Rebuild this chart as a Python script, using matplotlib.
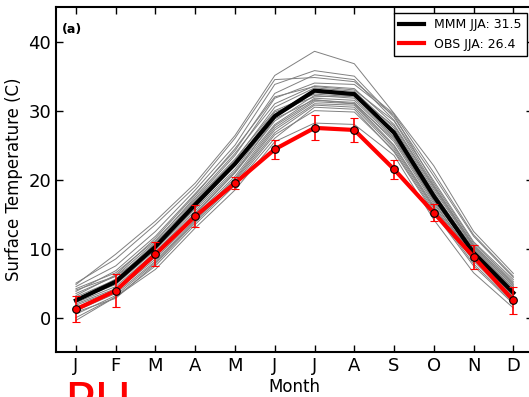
import matplotlib.pyplot as plt

months = ['J', 'F', 'M', 'A', 'M', 'J', 'J', 'A', 'S', 'O', 'N', 'D']
month_num = list(range(1, 13))

mmm = [2.5, 5.2, 10.3, 16.4, 22.3, 29.2, 32.9, 32.4, 26.8, 17.6, 9.4, 3.6]
obs = [1.2, 3.9, 9.2, 14.7, 19.5, 24.4, 27.5, 27.2, 21.5, 15.2, 8.8, 2.5]
obs_err = [1.9, 2.4, 1.7, 1.6, 0.9, 1.4, 1.8, 1.7, 1.4, 1.2, 1.8, 2.0]

# individual models (grey lines)
models = [
    [4.8, 9.2, 14.0, 19.5, 26.4, 35.1, 38.6, 36.8, 29.6, 22.0, 12.5, 6.4],
    [4.5, 7.5, 12.5, 18.5, 25.0, 33.8, 35.8, 35.0, 29.0, 20.5, 11.8, 5.8],
    [3.8, 6.8, 11.8, 18.0, 24.2, 32.5, 35.2, 34.5, 28.6, 19.8, 11.0, 5.5],
    [4.2, 6.5, 11.2, 17.2, 23.5, 31.8, 34.0, 33.8, 29.3, 19.5, 10.8, 5.2],
    [3.5, 6.0, 11.0, 17.5, 23.8, 31.0, 33.6, 33.2, 28.0, 19.0, 10.5, 4.8],
    [3.0, 5.5, 10.5, 16.8, 22.8, 30.5, 33.3, 32.8, 27.5, 18.5, 10.2, 4.5],
    [2.8, 5.0, 10.0, 16.0, 22.0, 29.5, 33.0, 32.5, 27.0, 18.0, 10.0, 4.2],
    [2.5, 4.8, 9.8, 15.8, 21.5, 29.0, 32.6, 32.2, 26.5, 17.5, 9.8, 4.0],
    [2.2, 4.5, 9.5, 15.5, 21.2, 28.5, 32.2, 31.8, 26.2, 17.2, 9.5, 3.8],
    [2.0, 4.2, 9.0, 15.0, 21.0, 28.0, 31.8, 31.5, 26.0, 17.0, 9.2, 3.5],
    [1.8, 4.0, 8.8, 14.8, 20.5, 27.8, 31.5, 31.2, 25.5, 16.5, 9.0, 3.2],
    [1.5, 3.8, 8.5, 14.5, 20.2, 27.5, 31.3, 31.0, 25.0, 16.2, 8.8, 3.0],
    [1.0, 3.5, 8.2, 14.2, 20.0, 27.2, 31.0, 30.8, 24.8, 16.0, 8.5, 2.8],
    [0.5, 3.2, 8.0, 14.0, 19.8, 26.8, 30.8, 30.5, 24.5, 15.8, 8.2, 2.5],
    [0.0, 3.0, 7.5, 13.5, 19.2, 26.0, 30.5, 30.2, 24.0, 15.2, 7.5, 2.0],
    [-0.4, 3.0, 7.0, 13.0, 18.5, 25.5, 28.2, 28.0, 23.5, 14.2, 6.5, 1.4],
    [3.2, 6.2, 11.5, 17.8, 24.5, 32.0, 33.5, 33.0, 28.5, 19.2, 10.5, 5.0],
    [2.6, 5.6, 10.8, 17.0, 23.0, 30.0, 32.4, 32.0, 27.2, 18.2, 9.6, 4.3],
    [4.0, 6.0, 10.0, 16.5, 22.5, 29.8, 32.0, 32.2, 27.8, 18.8, 10.3, 4.6],
    [1.2, 4.0, 9.2, 15.2, 21.0, 28.8, 31.6, 31.0, 25.8, 16.8, 8.6, 3.0],
    [5.0, 8.5, 13.5, 19.0, 26.0, 34.5, 34.8, 34.2, 29.5, 21.0, 12.0, 6.0],
    [0.8, 2.8, 7.8, 13.8, 19.5, 26.5, 30.0, 29.8, 24.2, 15.5, 7.8, 2.2],
]

fig = plt.figure(figsize=(5.29, 3.97), dpi=100)
ax = fig.add_axes([0.106, 0.113, 0.902, 0.869])

for m in models:
    ax.plot(month_num, m, color='0.5', lw=0.7)

ax.plot(month_num, mmm, color='black', lw=3, label='MMM JJA: 31.5')
ax.plot(month_num, obs, color='red', lw=3, label='OBS JJA: 26.4')
ax.errorbar(month_num, obs, yerr=obs_err, fmt='o', color='red', ecolor='red',
            mec='black', mew=0.8, ms=5.5, capsize=3, elinewidth=1.2, zorder=5)

ax.set_xlim(0.5, 12.5)
ax.set_ylim(-5, 45)
ax.set_xticks(month_num)
ax.set_xticklabels(months)
ax.set_yticks([0, 10, 20, 30, 40])
ax.tick_params(direction='in', top=True, right=True, labelsize=13, length=5, width=1)
for s in ax.spines.values():
    s.set_linewidth(1.5)

ax.set_xlabel('Month', fontsize=12, labelpad=2)
ax.set_ylabel('Surface Temperature (C)', fontsize=12)
ax.text(0.013, 0.955, '(a)', transform=ax.transAxes, fontsize=9,
        fontweight='bold', va='top')

leg = ax.legend(loc='upper right', fontsize=9, fancybox=False, framealpha=1,
                edgecolor='black', handlelength=2)
leg.get_frame().set_linewidth(1)

# big red label, cut off by the bottom edge as in the original
fig.text(0.122, -0.052, 'PH', color='red', fontsize=36, va='baseline')

plt.savefig('out.png', dpi=100)
